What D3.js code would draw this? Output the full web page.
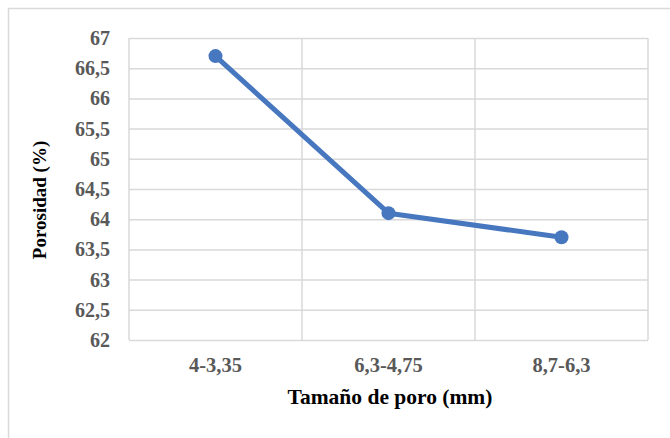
<!DOCTYPE html>
<html>
<head>
<meta charset="utf-8">
<script src="https://cdn.jsdelivr.net/npm/d3@7"></script>
<style>
  html, body { margin: 0; padding: 0; background: #fff; }
  svg { display: block; }
  svg text { font-family: "Liberation Serif", "Times New Roman", "DejaVu Serif", serif; font-weight: bold; }
</style>
</head>
<body>
<svg id="chart" width="670" height="438"></svg>
<script>
// Pore size ranges and measured porosity
const categories = ["4-3,35", "6,3-4,75", "8,7-6,3"];
const porosity = [66.7, 64.1, 63.7];
const yTicks = [62, 62.5, 63, 63.5, 64, 64.5, 65, 65.5, 66, 66.5, 67];

const svg = d3.select("#chart");
const W = 670, H = 438;
const plot = { left: 129, right: 648, top: 38, bottom: 340 };
const font = "Liberation Serif, Times New Roman, serif";
const grid = "#d9d9d9";
const tickColor = "#595959";
const lineColor = "#4677bf";

// Outer chart frame (runs past the window edge)
svg.append("rect")
  .attr("x", 8.5).attr("y", 8.5)
  .attr("width", W + 20).attr("height", H + 20)
  .attr("fill", "#fff").attr("stroke", grid).attr("stroke-width", 1.5);

const x = d3.scaleBand().domain(categories).range([plot.left, plot.right]).padding(0);
const y = d3.scaleLinear().domain([62, 67]).range([plot.bottom, plot.top]);

// Horizontal gridlines and y labels
const yAxis = d3.axisLeft(y).tickValues(yTicks)
  .tickSize(plot.left - plot.right)
  .tickPadding(19)
  .tickFormat(d => d3.format("")(d).replace(".", ","));
const gy = svg.append("g").attr("transform", `translate(${plot.left},0)`).call(yAxis)
  .attr("font-family", null);
gy.select(".domain").remove();
gy.selectAll(".tick line").attr("stroke", grid).attr("stroke-width", 1.5);
gy.selectAll(".tick text")
  .attr("fill", tickColor)
  .style("font-family", font).style("font-weight", "bold").style("font-size", "20px");

// Vertical gridlines at category boundaries
const bounds = categories.map(c => x(c)).concat([x(categories[categories.length - 1]) + x.bandwidth()]);
svg.append("g").selectAll("line").data(bounds).join("line")
  .attr("x1", d => d).attr("x2", d => d)
  .attr("y1", plot.top).attr("y2", plot.bottom)
  .attr("stroke", grid).attr("stroke-width", 1.5);

// Category labels
const xAxis = d3.axisBottom(x).tickSize(0).tickPadding(17);
const gx = svg.append("g").attr("transform", `translate(0,${plot.bottom})`).call(xAxis)
  .attr("font-family", null);
gx.select(".domain").remove();
gx.selectAll(".tick text")
  .attr("fill", tickColor)
  .style("font-family", font).style("font-weight", "bold").style("font-size", "20.5px");

// Axis titles
svg.append("text")
  .attr("x", 390).attr("y", 404)
  .attr("text-anchor", "middle")
  .style("font-family", font).style("font-weight", "bold").style("font-size", "21.5px")
  .attr("fill", "#000")
  .text("Tamaño de poro (mm)");

svg.append("text")
  .attr("transform", `translate(46,${(plot.top + plot.bottom) / 2 + 11}) rotate(-90)`)
  .attr("text-anchor", "middle")
  .style("font-family", font).style("font-weight", "bold").style("font-size", "19px")
  .attr("fill", "#000")
  .text("Porosidad (%)");

// Series line and markers
const pts = categories.map((c, i) => [x(c) + x.bandwidth() / 2, y(porosity[i])]);
svg.append("path")
  .attr("d", d3.line()(pts))
  .attr("fill", "none").attr("stroke", lineColor)
  .attr("stroke-width", 5).attr("stroke-linejoin", "round").attr("stroke-linecap", "round");
svg.append("g").selectAll("circle").data(pts).join("circle")
  .attr("cx", d => d[0]).attr("cy", d => d[1]).attr("r", 7)
  .attr("fill", lineColor);
</script>
</body>
</html>
